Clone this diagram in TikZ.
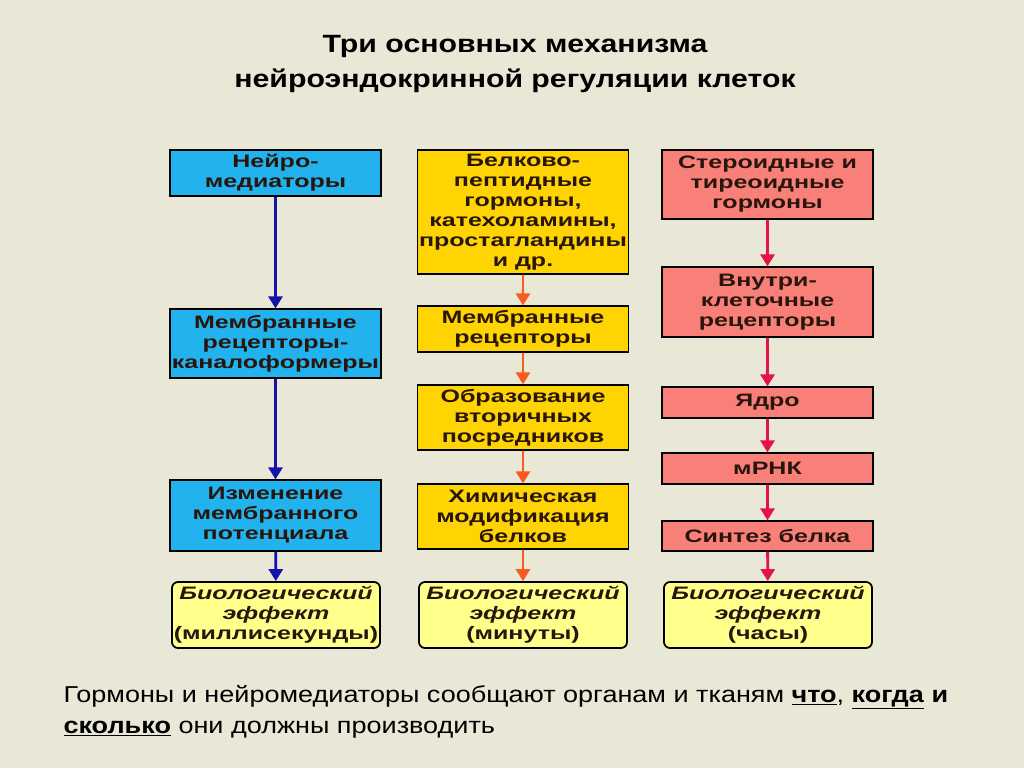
\documentclass[tikz,border=0pt]{standalone}
\usepackage{fontspec}
\setmainfont{Liberation Sans}
\newfontfamily\boxfont[FakeStretch=1.39]{Liberation Sans}
\newfontfamily\titlefont[FakeStretch=1.21]{Liberation Sans}
\newfontfamily\notefont[FakeStretch=1.175]{Liberation Sans}
\usetikzlibrary{positioning,arrows.meta}
\definecolor{bgbeige}{RGB}{233,231,214}
\definecolor{nrblue}{RGB}{34,178,238}
\definecolor{nrdark}{RGB}{20,20,170}
\definecolor{pepgold}{RGB}{255,212,0}
\definecolor{peporange}{RGB}{250,90,30}
\definecolor{stsalmon}{RGB}{248,128,120}
\definecolor{stred}{RGB}{230,20,70}
\definecolor{effyellow}{RGB}{255,255,140}
\definecolor{inkbrown}{RGB}{40,22,12}

\begin{document}
\begin{tikzpicture}[
  x=1pt, y=-1pt,
  box/.style={draw=black, line width=1.2pt, align=center, inner sep=0pt, minimum width=211,
    text=inkbrown, font=\boxfont\bfseries\fontsize{18}{20}\selectfont},
  nbox/.style={box, fill=nrblue},
  pbox/.style={box, fill=pepgold},
  sbox/.style={box, fill=stsalmon},
  eff/.style={box, fill=effyellow, rounded corners=6pt, line width=1.8pt, minimum width=208, minimum height=66},
  arr/.style={-{Triangle[length=12pt, width=14pt]}, line width=2.8pt},
]
% ---- background and frame ----
\fill[bgbeige] (0,0) rectangle (1024,768);
\useasboundingbox (0,0) rectangle (1024,768);
% ---- title ----
\node[align=center, font=\titlefont\bfseries\fontsize{25}{35}\selectfont, text=black] (title) at (515,64)
  {Три основных механизма\\нейроэндокринной регуляции клеток};
% ---- neuromediators ----
\node[nbox, minimum height=46] (nmed) at (275.5,173) {Нейро-\\медиаторы};
\node[nbox, minimum height=69] (nchan) at (275.5,343.5) {Мембранные\\рецепторы-\\каналоформеры};
\node[nbox, minimum height=71] (npot) at (275.5,515.5) {Изменение\\мембранного\\потенциала};
\node[eff] (neff) at (276,615) {\textit{Биологический}\\\textit{эффект}\\(миллисекунды)};
% ---- peptide hormones ----
\node[pbox, minimum height=124] (phorm) at (523,212) {Белково-\\пептидные\\гормоны,\\катехоламины,\\простагландины\\и др.};
\node[pbox, minimum height=46] (prec) at (523,329) {Мембранные\\рецепторы};
\node[pbox, minimum height=65] (psec) at (523,417.5) {Образование\\вторичных\\посредников};
\node[pbox, minimum height=65] (pmod) at (523,516.5) {Химическая\\модификация\\белков};
\node[eff] (peff) at (523,615) {\textit{Биологический}\\\textit{эффект}\\(минуты)};
% ---- steroid hormones ----
\node[sbox, minimum height=69] (shorm) at (767.5,184.5) {Стероидные и\\тиреоидные\\гормоны};
\node[sbox, minimum height=70] (srec) at (767.5,302) {Внутри-\\клеточные\\рецепторы};
\node[sbox, minimum height=31] (snuc) at (767.5,402.5) {Ядро};
\node[sbox, minimum height=31] (srna) at (767.5,468.5) {мРНК};
\node[sbox, minimum height=30] (sprot) at (767.5,536) {Синтез белка};
\node[eff] (seff) at (768,615) {\textit{Биологический}\\\textit{эффект}\\(часы)};
% ---- arrows ----
\draw[arr, nrdark] (nmed) -- (nchan);
\draw[arr, nrdark] (nchan) -- (npot);
\draw[arr, nrdark] (npot) -- (neff);
\draw[arr, peporange] (phorm) -- (prec);
\draw[arr, peporange] (prec) -- (psec);
\draw[arr, peporange] (psec) -- (pmod);
\draw[arr, peporange] (pmod) -- (peff);
\draw[arr, stred] (shorm) -- (srec);
\draw[arr, stred] (srec) -- (snuc);
\draw[arr, stred] (snuc) -- (srna);
\draw[arr, stred] (srna) -- (sprot);
\draw[arr, stred] (sprot) -- (seff);
% ---- note ----
\node[anchor=west, align=left, font=\notefont\fontsize{23}{31}\selectfont, text=black] (note) at (60,712)
  {Гормоны и нейромедиаторы сообщают органам и тканям \underline{\textbf{что}}, \underline{\textbf{когда}} \textbf{и}\\
   \underline{\textbf{сколько}} они должны производить};
\end{tikzpicture}
\end{document}
